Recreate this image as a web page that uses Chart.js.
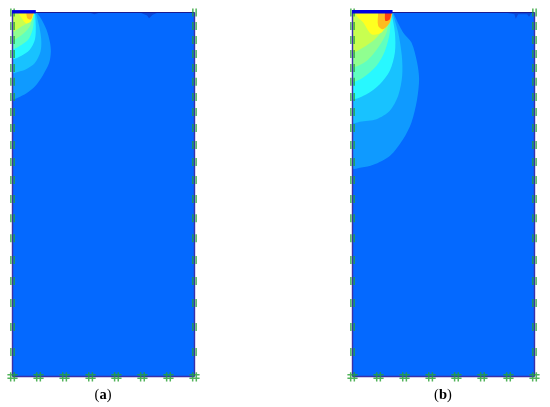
<!DOCTYPE html>
<html>

<head>
  <title>Contours</title>
  <script type="text/javascript" src="https://cdn.jsdelivr.net/npm/chart.js"></script>
  <style>
    body { margin: 0; background: #fff; }
    canvas { position: absolute; top: 0; }
    #chart-a { left: 0; }
    #chart-b { left: 340px; }
    .caption { position: absolute; top: 386px; width: 60px; text-align: center; font: 14.5px "Liberation Serif", serif; color: #000; }
  </style>
</head>

<body>
  <canvas id="chart-a" width="210" height="395"></canvas>
  <canvas id="chart-b" width="210" height="395"></canvas>
  <div class="caption" style="left:73px">(<b>a</b>)</div>
  <div class="caption" style="left:413px">(<b>b</b>)</div>

  <script type="text/javascript">
    // model is 10 wide, 20 deep; depth runs downwards
    const width = 10;
    const depth = 20;
    const sideNodes = [0, 0.74, 1.51, 2.28, 3.05, 3.81, 4.64, 5.47, 6.35, 7.28, 8.21, 9.2, 10.25, 11.3, 12.4, 13.6, 14.75, 15.96, 17.28, 18.65];
    const bottomNodes = [0, 1.43, 2.86, 4.29, 5.71, 7.14, 8.57, 10];

    const levelColors = ['#0f9aff', '#18c2ff', '#28f8ff', '#60ffc0', '#90ff90', '#c8ff50', '#ffff20', '#ffbc20', '#ff4010'];

    // contour outlines, outermost first, [x, depth]
    const contoursA = [
      [[1.32, 0], [1.59, 0.37], [1.87, 0.95], [2.05, 1.6], [2.11, 2.14], [2.01, 2.78], [1.68, 3.43], [1.23, 4.07], [0.77, 4.44], [0.3, 4.68], [0, 4.76], [0, 4.3], [0, 0]],
      [[1.28, 0], [1.47, 0.77], [1.58, 1.5], [1.54, 2.14], [1.23, 2.78], [0.77, 3.11], [0.3, 3.27], [0, 3.33], [0, 3], [0, 0]],
      [[1.23, 0], [1.28, 0.77], [1.23, 1.5], [0.95, 2.05], [0.49, 2.38], [0, 2.56], [0, 2.2], [0, 0]],
      [[1.17, 0], [1.14, 0.77], [0.92, 1.41], [0.49, 1.78], [0, 2.01], [0, 1.7], [0, 0]],
      [[1.14, 0], [0.99, 0.68], [0.62, 1.14], [0, 1.54], [0, 1.3], [0, 0]],
      [[1.1, 0], [0.92, 0.49], [0.49, 0.77], [0, 1.08], [0, 0.9], [0, 0]],
      [[0.3, 0], [0.5, 0.3], [0.75, 0.6], [1, 0.5], [1.2, 0]],
      [[0.75, 0], [0.82, 0.32], [1.02, 0.38], [1.15, 0]]
    ];
    const contoursB = [
      [[2.23, 0], [2.78, 1.1], [3.24, 1.65], [3.55, 2.75], [3.66, 3.66], [3.55, 4.76], [3.24, 6.04], [2.78, 6.96], [2.05, 7.88], [1.14, 8.37], [0.5, 8.52], [0, 8.57], [0, 8.1], [0, 0]],
      [[2.2, 0], [2.51, 1.1], [2.71, 2.38], [2.73, 3.48], [2.51, 4.58], [2.05, 5.4], [1.32, 5.86], [0.4, 6], [0, 6.08], [0, 5.7], [0, 0]],
      [[2.14, 0], [2.33, 1.1], [2.33, 2.2], [2.05, 3.2], [1.5, 3.94], [0.77, 4.49], [0, 4.76], [0, 4.3], [0, 0]],
      [[2.09, 0], [2.05, 1.1], [1.78, 2.11], [1.32, 2.93], [0.59, 3.57], [0, 3.81], [0, 3.4], [0, 0]],
      [[2.05, 0], [1.87, 1.1], [1.41, 1.92], [0.77, 2.66], [0, 3.02], [0, 2.7], [0, 0]],
      [[2.01, 0], [1.68, 0.92], [1.23, 1.47], [0.59, 1.92], [0, 2.2], [0, 1.9], [0, 0]],
      [[0.13, 0], [0.3, 0.28], [0.59, 0.55], [1.04, 1.19], [1.6, 1.1], [1.96, 0.5], [2.05, 0]],
      [[1.41, 0], [1.41, 0.73], [1.68, 0.92], [2.05, 0.55], [2.2, 0]],
      [[1.78, 0], [1.81, 0.46], [2.05, 0.37], [2.14, 0]]
    ];

    // darker patches under the top edge
    const dipsA = [[[4.2, 0], [4.5, 0.1], [4.8, 0]], [[7, 0], [7.4, 0.16], [7.5, 0.32], [7.7, 0.12], [8, 0]]];
    const dipsB = [[[8.37, 0], [8.9, 0.1], [8.97, 0.35], [9.1, 0.1], [9.6, 0.1], [9.7, 0.24], [9.85, 0]]];

    const loadEndA = 1.28;
    const loadEndB = 2.2;

    function ToPoints(pairs) {
        return pairs.map(p => ({x: p[0], y: p[1]}));
    }

    function Segments(list) {
        var data = [];
        for (const s of list) {
            data.push({x: s[0], y: s[1]}, {x: s[2], y: s[3]}, {x: NaN, y: NaN});
        }
        return data;
    }

    function SupportSegments() {
        var segs = [];
        for (const x of [0, width]) {
            for (const y of sideNodes) {
                segs.push([x - 0.09, y - 0.22, x - 0.09, y + 0.22]);
                segs.push([x + 0.09, y - 0.22, x + 0.09, y + 0.22]);
            }
        }
        for (const x of bottomNodes) {
            segs.push([x - 0.1, depth - 0.24, x - 0.1, depth + 0.28]);
            segs.push([x + 0.1, depth - 0.24, x + 0.1, depth + 0.28]);
            segs.push([x - 0.28, depth - 0.1, x + 0.28, depth - 0.1]);
            segs.push([x - 0.28, depth + 0.1, x + 0.28, depth + 0.1]);
        }
        return segs;
    }

    function DrawPanel(id, contours, dips, loadEnd) {
        var datasets = [];
        const area = (pairs, color, tension) => datasets.push({
            data: ToPoints(pairs), showLine: true, fill: 'shape', backgroundColor: color,
            borderWidth: 0, pointRadius: 0, tension: tension
        });
        const line = (data, color, w) => datasets.push({
            data: data, showLine: true, fill: false, borderColor: color,
            borderWidth: w, pointRadius: 0, tension: 0, spanGaps: false
        });

        area([[0, 0], [width, 0], [width, depth], [0, depth]], '#0469ff', 0);
        contours.forEach((c, i) => area(c, levelColors[i], 0.3));
        dips.forEach(d => area(d, '#0a48d8', 0));
        line(Segments([[0, 0, 0, depth], [width, 0, width, depth], [0, depth, width, depth]]), '#3a30a8', 1.4);
        line(Segments([[0, 0, width, 0]]), '#1a1a90', 1.2);
        line(Segments(SupportSegments()), 'rgba(40,160,50,0.8)', 1.5);
        line(Segments([[-0.03, -0.04, loadEnd, -0.04]]), '#0000e0', 3.4);

        // first dataset is the bottom layer
        datasets.forEach((d, i) => { d.order = datasets.length - i; });

        new Chart(document.getElementById(id), {
            type: 'scatter',
            data: { datasets: datasets },
            options: {
                responsive: false,
                animation: false,
                events: [],
                layout: { padding: 0 },
                plugins: { legend: { display: false }, tooltip: { enabled: false } },
                scales: {
                    x: { type: 'linear', display: false, min: -0.687, max: 10.852 },
                    y: { type: 'linear', display: false, reverse: true, min: -0.687, max: 21.016 }
                }
            }
        });
    }

    DrawPanel('chart-a', contoursA, dipsA, loadEndA);
    DrawPanel('chart-b', contoursB, dipsB, loadEndB);
  </script>

</body>

</html>
